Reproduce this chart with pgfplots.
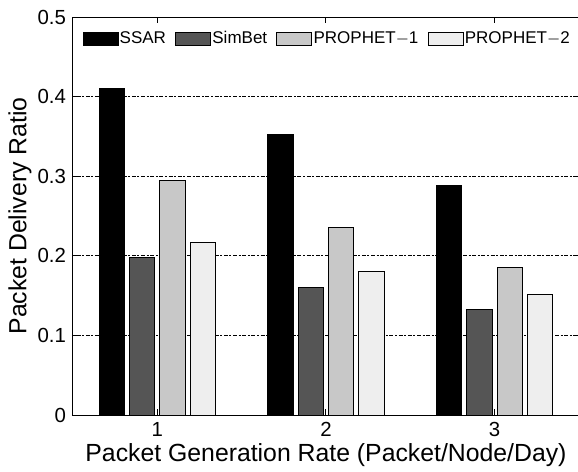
\documentclass[border=0pt]{standalone}
\usepackage{fontspec}
\setmainfont{Liberation Sans}
\usepackage{pgfplots}
\pgfplotsset{compat=1.18}
\definecolor{cSimBet}{RGB}{85,85,85}
\definecolor{cP1}{RGB}{200,200,200}
\definecolor{cP2}{RGB}{238,238,238}
\begin{document}
\begin{tikzpicture}
\begin{axis}[name=ax, scale only axis, width=253pt, height=199pt,
 xmin=0.5, xmax=3.5, ymin=0, ymax=0.5,
 ybar, bar width=0.15,
 xtick={1,2,3}, ytick={0,0.1,0.2,0.3,0.4,0.5},
 ymajorgrids, grid style={black, line width=0.4pt, dash pattern=on 1pt off 0.8pt on 2pt off 0.8pt},
 tick align=inside, major tick length=3pt, xtick pos=both, ytick pos=both,
 tick style={black, line width=0.5pt},
 axis line style={line width=0.5pt},
 ticklabel style={font=\fontsize{10.2}{12}\selectfont},
 /pgf/number format/assume math mode=true,
 xlabel={Packet Generation Rate (Packet/Node/Day)},
 ylabel={Packet Delivery Ratio},
 label style={font=\fontsize{12.4}{14}\selectfont},
 xlabel style={at={(axis description cs:0.5,-0.1)}, anchor=center},
 ylabel style={at={(axis description cs:-0.105,0.5)}, anchor=center},
 legend style={at={(axis description cs:0.018,0.97)}, anchor=north west, draw=none, fill=none, legend columns=4, font=\fontsize{8.5}{10}\selectfont, inner sep=0pt, nodes={inner xsep=0.6pt, inner ysep=1pt}, /tikz/every even column/.append style={column sep=4pt}},
 legend image code/.code={\draw[#1, line width=0.5pt] (0pt,-3.25pt) rectangle (17.5pt,3.25pt);},
]
\addplot[bar shift=-0.27, draw=black, fill=black, line width=0.5pt] coordinates {(1,0.410) (2,0.352) (3,0.288)};
\addplot[bar shift=-0.09, draw=black, fill=cSimBet, line width=0.5pt] coordinates {(1,0.198) (2,0.160) (3,0.132)};
\addplot[bar shift=0.09, draw=black, fill=cP1, line width=0.5pt] coordinates {(1,0.295) (2,0.236) (3,0.185)};
\addplot[bar shift=0.27, draw=black, fill=cP2, line width=0.5pt] coordinates {(1,0.217) (2,0.180) (3,0.151)};
\legend{SSAR, SimBet, PROPHET$-$1, PROPHET$-$2}
\end{axis}
\pgfresetboundingbox
\path[use as bounding box] ([xshift=-36.5pt,yshift=-28pt]ax.south west) rectangle ([xshift=-0.5pt,yshift=8.5pt]ax.north east);
\end{tikzpicture}
\end{document}
